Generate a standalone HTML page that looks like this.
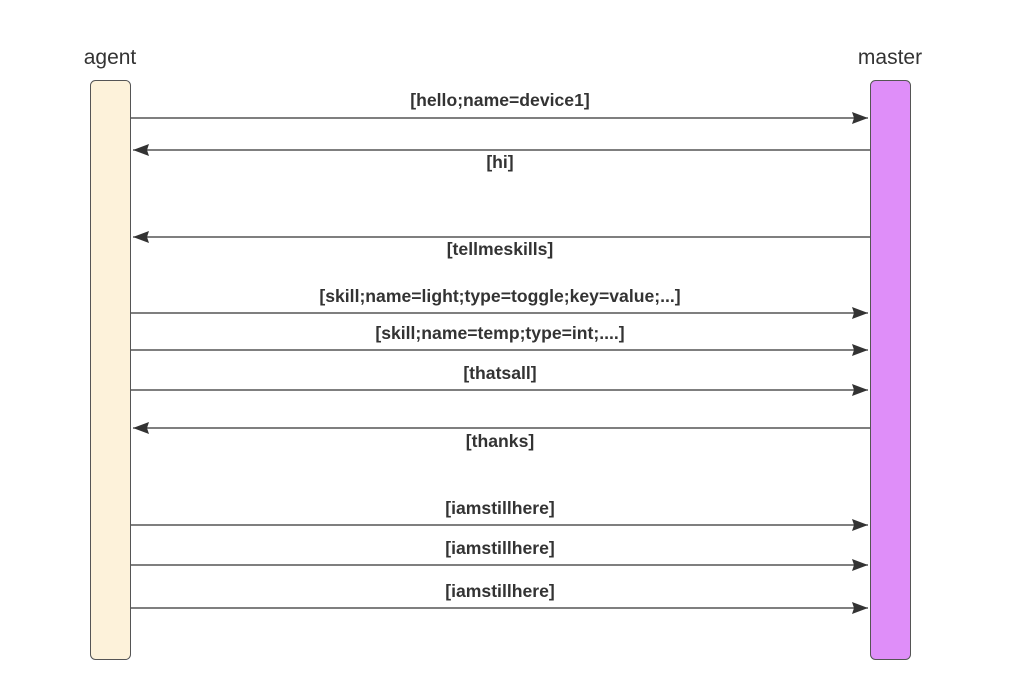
<!DOCTYPE html>
<html><head><style>
body{margin:0;background:#fff;}
svg{display:block;}
text{font-family:"Liberation Sans",sans-serif;fill:#333;}
.l{font-size:17.6px;font-weight:bold;text-anchor:middle;}
</style></head><body>
<svg width="1010" height="700" viewBox="0 0 1010 700">
<defs>
<marker id="a" markerWidth="16" markerHeight="12" refX="16" refY="6" orient="auto" markerUnits="userSpaceOnUse">
<path d="M0,0 L16,6 L0,12 L2,6 Z" fill="#333"/></marker>
</defs>
<text x="110" y="64" font-size="21" text-anchor="middle">agent</text>
<text x="890" y="64" font-size="21" text-anchor="middle">master</text>
<rect x="90.5" y="80.5" width="40" height="579" rx="5" fill="#fdf2da" stroke="#555"/>
<rect x="870.5" y="80.5" width="40" height="579" rx="5" fill="#df8ef9" stroke="#555"/>
<g stroke="#333" stroke-width="1.2" fill="none">
<line x1="131" y1="118" x2="868" y2="118" marker-end="url(#a)"/>
<line x1="870" y1="150" x2="133" y2="150" marker-end="url(#a)"/>
<line x1="870" y1="237" x2="133" y2="237" marker-end="url(#a)"/>
<line x1="131" y1="313" x2="868" y2="313" marker-end="url(#a)"/>
<line x1="131" y1="350" x2="868" y2="350" marker-end="url(#a)"/>
<line x1="131" y1="390" x2="868" y2="390" marker-end="url(#a)"/>
<line x1="870" y1="428" x2="133" y2="428" marker-end="url(#a)"/>
<line x1="131" y1="525" x2="868" y2="525" marker-end="url(#a)"/>
<line x1="131" y1="565" x2="868" y2="565" marker-end="url(#a)"/>
<line x1="131" y1="608" x2="868" y2="608" marker-end="url(#a)"/>
</g>
<text class="l" x="500" y="106">[hello;name=device1]</text>
<text class="l" x="500" y="168">[hi]</text>
<text class="l" x="500" y="255">[tellmeskills]</text>
<text class="l" x="500" y="302">[skill;name=light;type=toggle;key=value;...]</text>
<text class="l" x="500" y="339">[skill;name=temp;type=int;....]</text>
<text class="l" x="500" y="379">[thatsall]</text>
<text class="l" x="500" y="447">[thanks]</text>
<text class="l" x="500" y="514">[iamstillhere]</text>
<text class="l" x="500" y="554">[iamstillhere]</text>
<text class="l" x="500" y="597">[iamstillhere]</text>
</svg>
</body></html>
